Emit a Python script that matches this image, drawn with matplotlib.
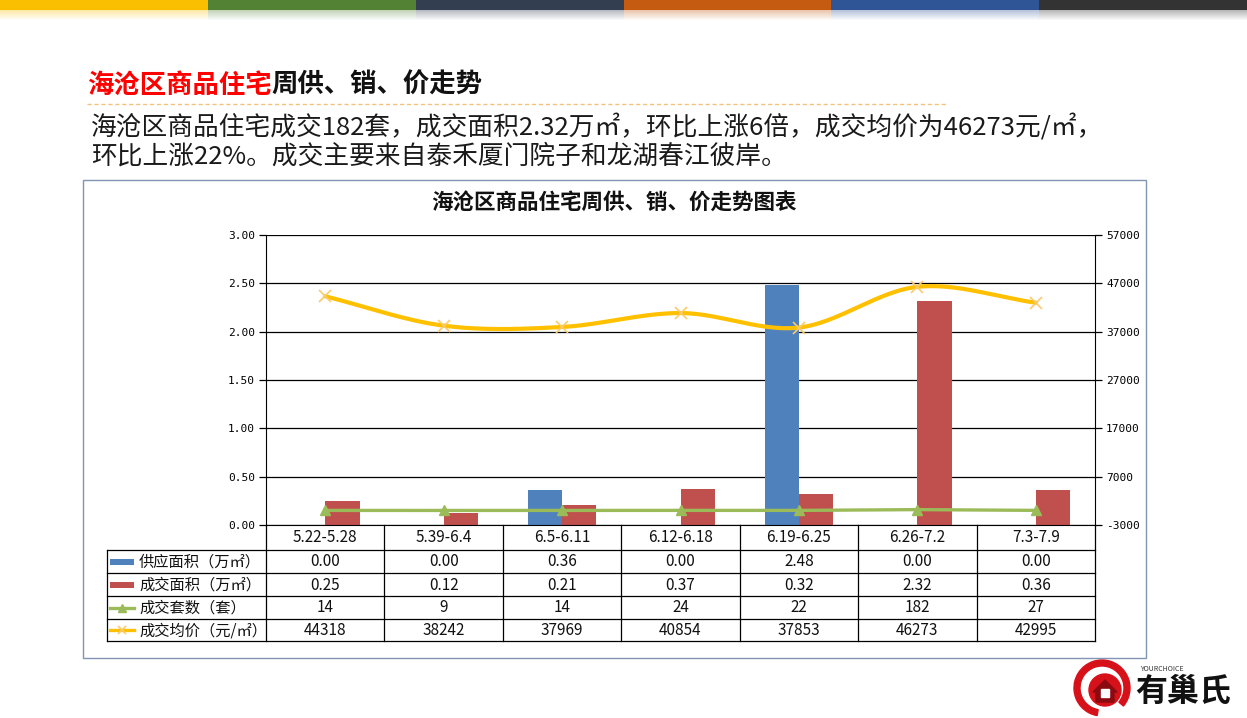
import numpy as np
import matplotlib
matplotlib.use('Agg')
import matplotlib.pyplot as plt
from matplotlib.patches import Rectangle, Circle, Wedge, Polygon
from matplotlib.lines import Line2D

plt.rcParams['font.family'] = ['Noto Sans CJK SC', 'DejaVu Sans']

# 数据
weeks = ['5.22-5.28', '5.39-6.4', '6.5-6.11', '6.12-6.18', '6.19-6.25', '6.26-7.2', '7.3-7.9']
supply_area = [0.00, 0.00, 0.36, 0.00, 2.48, 0.00, 0.00]      # 供应面积（万㎡）
deal_area = [0.25, 0.12, 0.21, 0.37, 0.32, 2.32, 0.36]        # 成交面积（万㎡）
deal_count = [14, 9, 14, 24, 22, 182, 27]                      # 成交套数（套）
avg_price = [44318, 38242, 37969, 40854, 37853, 46273, 42995]  # 成交均价（元/㎡）
series_names = ['供应面积（万㎡）', '成交面积（万㎡）', '成交套数（套）', '成交均价（元/㎡）']

BLUE, RED, GREEN, YELLOW = '#4F81BD', '#C0504D', '#9BBB59', '#FFC000'
W, H = 1247, 718


def fx(px):
    return px / W


def fy(py):
    return 1 - py / H


def smooth(xs, ys, n=30):
    # Catmull-Rom 平滑曲线（模仿 Excel 平滑线）
    xs, ys = np.asarray(xs, float), np.asarray(ys, float)
    px = np.concatenate([[2 * xs[0] - xs[1]], xs, [2 * xs[-1] - xs[-2]]])
    py = np.concatenate([[2 * ys[0] - ys[1]], ys, [2 * ys[-1] - ys[-2]]])
    ox, oy = [], []
    t = np.linspace(0, 1, n)
    for i in range(1, len(px) - 2):
        for p, o in ((px, ox), (py, oy)):
            p0, p1, p2, p3 = p[i - 1], p[i], p[i + 1], p[i + 2]
            o.extend(0.5 * ((2 * p1) + (-p0 + p2) * t + (2 * p0 - 5 * p1 + 4 * p2 - p3) * t ** 2
                            + (-p0 + 3 * p1 - 3 * p2 + p3) * t ** 3))
    return np.array(ox), np.array(oy)


fig = plt.figure(figsize=(W / 100, H / 100), dpi=100)
fig.patch.set_facecolor('white')

# 顶部彩条
bar_colors = ['#FAC000', '#548235', '#333F50', '#C55A11', '#2F5597', '#333333']
top = fig.add_axes([0, fy(20), 1, 20 / H])
top.set_xlim(0, W)
top.set_ylim(20, 0)
top.axis('off')
seg = W / len(bar_colors)
for i, c in enumerate(bar_colors):
    top.add_patch(Rectangle((i * seg, 0), seg, 10, color=c, lw=0))
    rgba = matplotlib.colors.to_rgba(c)
    for k in range(10):
        top.add_patch(Rectangle((i * seg, 10 + k), seg, 1, color=rgba[:3], alpha=0.35 * (1 - k / 10), lw=0))

# 标题
t1 = fig.text(fx(87), fy(85), '海沧区商品住宅', color='#FF0000', fontsize=19, fontweight='bold', va='center')
fig.canvas.draw()
bb = t1.get_window_extent()
fig.text(bb.x1 / W, fy(85), '周供、销、价走势', color='#111111', fontsize=19, fontweight='bold', va='center')
fig.add_artist(Line2D([fx(87), fx(948)], [fy(104), fy(104)], color='#F2C27E', lw=1, ls=(0, (3, 2))))

fig.text(fx(91), fy(128), '海沧区商品住宅成交182套，成交面积2.32万㎡，环比上涨6倍，成交均价为46273元/㎡，',
         fontsize=18.5, color='#1a1a1a', va='center')
fig.text(fx(91), fy(157), '环比上涨22%。成交主要来自泰禾厦门院子和龙湖春江彼岸。',
         fontsize=18.5, color='#1a1a1a', va='center')

# 图表外框
fig.add_artist(Rectangle((fx(83), fy(658)), fx(1146) - fx(83), fy(180) - fy(658),
                         fill=False, ec='#8094B4', lw=1, transform=fig.transFigure))
fig.text(fx(614), fy(203), '海沧区商品住宅周供、销、价走势图表', fontsize=15.5, fontweight='bold',
         ha='center', va='center', color='#111111')

# 主图
x = np.arange(len(weeks))
ax = fig.add_axes([fx(266), fy(525), fx(1095) - fx(266), fy(235) - fy(525)])
ax.set_xlim(-0.5, len(weeks) - 0.5)
ax.set_ylim(0, 3)
ax.set_yticks(np.arange(0, 3.01, 0.5))
ax.set_yticklabels(['%.2f' % v for v in np.arange(0, 3.01, 0.5)], fontsize=8, family='DejaVu Sans Mono')
ax.yaxis.grid(True, color='black', lw=0.9)
ax.set_axisbelow(True)
ax.bar(x - 0.145, supply_area, 0.29, color=BLUE, zorder=2)
ax.bar(x + 0.145, deal_area, 0.29, color=RED, zorder=2)
ax.set_xticks([])
for s in ['top', 'right']:
    ax.spines[s].set_visible(False)
ax.spines['left'].set_color('black')
ax.spines['bottom'].set_color('black')
ax.tick_params(axis='y', length=5, width=0.9, color='black', pad=3)

ax2 = ax.twinx()
ax2.set_ylim(-3000, 57000)
ax2.set_yticks(np.arange(-3000, 57001, 10000))
ax2.set_yticklabels([str(v) for v in range(-3000, 57001, 10000)], fontsize=8, family='DejaVu Sans Mono')
for s in ['top', 'left', 'bottom']:
    ax2.spines[s].set_visible(False)
ax2.spines['right'].set_color('black')
ax2.tick_params(axis='y', length=5, width=0.9, color='black', pad=3)

ax2.plot(x, deal_count, color=GREEN, lw=2.4, marker='^', ms=7, mfc=GREEN, mec=GREEN, zorder=3)
sx, sy = smooth(x, avg_price)
ax2.plot(sx, sy, color=YELLOW, lw=3, zorder=4, solid_capstyle='round')
ax2.plot(x, avg_price, ls='none', marker='x', ms=9, mew=1.2, color='#F9CB6A', zorder=5)

# 数据表
row_b = [0, 25, 48, 71, 94, 116]
leg_left = -0.5 - (266 - 107) / ((1095 - 266) / len(weeks))
tax = fig.add_axes([fx(107), fy(641), fx(1095) - fx(107), fy(525) - fy(641)])
tax.set_xlim(leg_left, len(weeks) - 0.5)
tax.set_ylim(116, 0)
tax.axis('off')
lk = dict(color='black', lw=0.9, clip_on=False)
for yb in row_b[1:]:
    tax.plot([leg_left, len(weeks) - 0.5], [yb, yb], **lk)
tax.plot([leg_left, leg_left], [25, 116], **lk)
for k in range(len(weeks) + 1):
    tax.plot([k - 0.5, k - 0.5], [0, 116], **lk)

rows = [['%.2f' % v for v in supply_area],
        ['%.2f' % v for v in deal_area],
        [str(v) for v in deal_count],
        [str(v) for v in avg_price]]
for i, w in enumerate(weeks):
    tax.text(i, 13, w, ha='center', va='center', fontsize=11, color='#111111')
for r, vals in enumerate(rows):
    yc = (row_b[r + 1] + row_b[r + 2]) / 2
    for i, v in enumerate(vals):
        tax.text(i, yc + 0.5, v, ha='center', va='center', fontsize=11, color='#111111')

unit = (1095 - 266) / len(weeks)
p0 = leg_left + 3 / unit
p1 = leg_left + 27 / unit
for r, name in enumerate(series_names):
    yc = (row_b[r + 1] + row_b[r + 2]) / 2
    if r == 0:
        tax.add_patch(Rectangle((p0, yc - 3), p1 - p0, 6, color=BLUE, lw=0))
    elif r == 1:
        tax.add_patch(Rectangle((p0, yc - 3), p1 - p0, 6, color=RED, lw=0))
    elif r == 2:
        tax.plot([p0, p1], [yc, yc], color=GREEN, lw=2.4)
        tax.plot([(p0 + p1) / 2], [yc], marker='^', ms=6, color=GREEN)
    else:
        tax.plot([p0, p1], [yc, yc], color=YELLOW, lw=2.4)
        tax.plot([(p0 + p1) / 2], [yc], marker='x', ms=6, mew=1.2, color='#F9CB6A')
    tax.text(leg_left + 32 / unit, yc + 0.5, name, ha='left', va='center', fontsize=11, color='#111111')

# 右下角标志
lax = fig.add_axes([fx(1060), fy(718), fx(1247) - fx(1060), fy(655) - fy(718)])
lax.set_xlim(1060, 1247)
lax.set_ylim(718, 655)
lax.set_aspect('equal')
lax.axis('off')
lax.add_patch(Wedge((1102, 688), 28, 100, 400, width=6, color='#D7111A'))
lax.add_patch(Circle((1105, 690), 16, color='#D7111A'))
lax.add_patch(Polygon([[1093, 692], [1105, 680], [1117, 692], [1114, 692], [1114, 702], [1096, 702], [1096, 692]],
                      closed=True, color='#8A0A10'))
lax.add_patch(Rectangle((1101, 689), 8, 8, color='white'))
lax.text(1140, 669, 'YOURCHOICE', fontsize=5, style='italic', color='#333333', va='center')
lax.text(1135, 692, '有巢氏', fontsize=23, fontweight='bold', style='italic', color='#111111', va='center')

plt.savefig('out.png', dpi=100)
